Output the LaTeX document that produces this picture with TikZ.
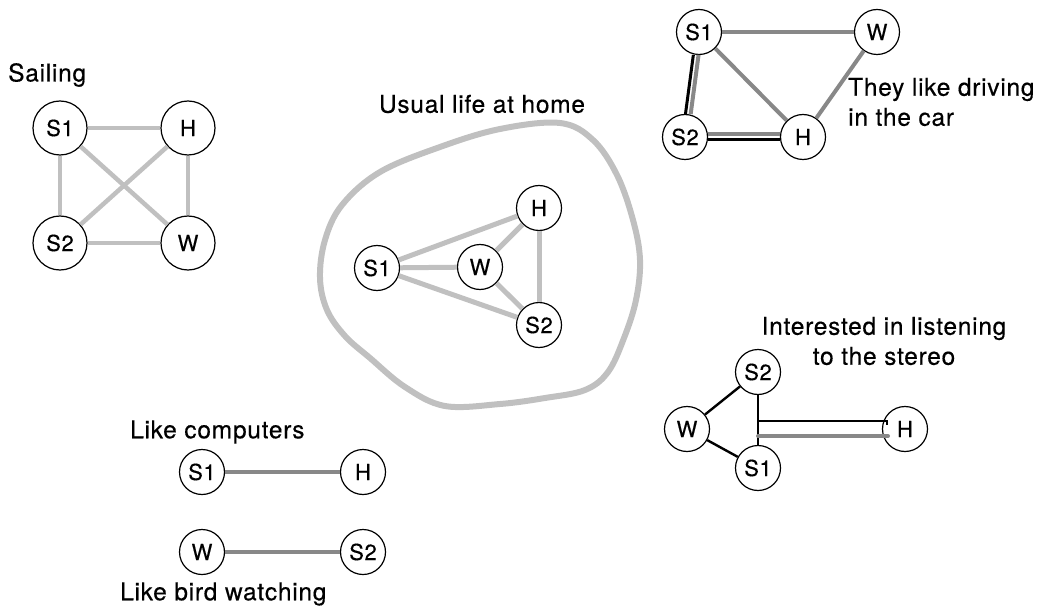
\documentclass[tikz,border=0pt]{standalone}
\usepackage{fontspec}
\setmainfont[LetterSpace=3,FakeBold=0.4]{TeX Gyre Heros}
\begin{document}
\begin{tikzpicture}[x=1pt,y=-1pt,
  vtx/.style={circle,draw,line width=1.2pt,minimum size=45pt,inner sep=0pt,font=\fontsize{22}{24}\selectfont},
  bigvtx/.style={vtx,minimum size=54pt},
  lab/.style={font=\fontsize{24.5}{30}\selectfont,inner sep=0pt},
  lightedge/.style={draw=lightgray,line width=4.5pt},
  midedge/.style={draw=midgray,line width=4pt},
  blackedge/.style={draw=black,line width=3pt},
  thinedge/.style={draw=black,line width=2.4pt},
  blob/.style={draw=lightgray,line width=6pt}
]
\definecolor{lightgray}{HTML}{C0C0C0}
\definecolor{midgray}{HTML}{888888}
\useasboundingbox (0,0) rectangle (1040,612);

% ---------- Sailing ----------
\node[lab,anchor=west] (tsail) at (8,75) {Sailing};
\node[bigvtx] (a1) at (60,128) {S1};
\node[bigvtx] (ah) at (188,128) {H};
\node[bigvtx] (a2) at (60,243) {S2};
\node[bigvtx] (aw) at (188,243) {W};
\draw[lightedge] (a1) -- (ah);
\draw[lightedge] (a1) -- (a2);
\draw[lightedge] (ah) -- (aw);
\draw[lightedge] (a2) -- (aw);
\draw[lightedge] (a1) -- (aw);
\draw[lightedge] (ah) -- (a2);

% ---------- Usual life at home ----------
\node[lab] (thome) at (482,104) {Usual life at home};
\draw[blob] plot[smooth cycle,tension=0.6] coordinates {
 (560,123) (593,140) (617,175) (633,220) (640,260) (636,300) (624,338)
 (608,372) (585,390) (545,398) (500,404) (445,406) (405,387) (370,358)
 (345,336) (327,310) (320,278) (325,240) (342,205) (380,172) (440,147) (500,129)};
\node[vtx] (b1) at (377,268) {S1};
\node[vtx] (bw) at (480,267) {W};
\node[vtx] (bh) at (539,208) {H};
\node[vtx] (b2) at (539,325) {S2};
\draw[lightedge,line width=5pt] (b1) -- (bh);
\draw[lightedge,line width=5pt] (b1) -- (bw);
\draw[lightedge,line width=5pt] (b1) -- (b2);
\draw[lightedge,line width=5pt] (bw) -- (bh);
\draw[lightedge,line width=5pt] (bw) -- (b2);
\draw[lightedge,line width=5pt] (bh) -- (b2);

% ---------- Driving in the car ----------
\node[vtx] (c1) at (699,32) {S1};
\node[vtx] (cw) at (877,32) {W};
\node[vtx] (c2) at (685,137) {S2};
\node[vtx] (ch) at (803,137) {H};
\draw[midedge] (c1) -- (cw);
\draw[midedge] (c1) -- (ch);
\draw[midedge] (cw) -- (ch);
\draw[blackedge,transform canvas={xshift=-2.6pt}] (c1) -- (c2);
\draw[midedge,transform canvas={xshift=2.6pt}] (c1) -- (c2);
\draw[midedge,transform canvas={yshift=3pt}] (c2) -- (ch);
\draw[blackedge,transform canvas={yshift=-3pt}] (c2) -- (ch);
\node[lab,anchor=west,align=left] (tcar) at (848,102) {They like driving\\in the car};

% ---------- Listening to the stereo ----------
\node[lab,align=center] (tstereo) at (884,341) {Interested in listening\\to the stereo};
\node[vtx] (d2) at (758,372) {S2};
\node[vtx] (dw) at (687,429) {W};
\node[vtx] (d1) at (758,468) {S1};
\node[vtx] (dh) at (905,429) {H};
\draw[thinedge] (dw) -- (d2);
\draw[thinedge] (dw) -- (d1);
\draw[thinedge] (d2) -- (d1);
\coordinate (j1) at (758,421);
\coordinate (j2) at (758,436);
\coordinate (k1) at (887,421);
\coordinate (k2) at (888,436);
\draw[thinedge] (j1) -- (k1) -- ++(0,4);
\draw[midedge,line cap=round] (j2) -- (k2);

% ---------- Like computers ----------
\node[lab,anchor=west] (tcomp) at (130,432) {Like computers};
\node[vtx] (e1) at (202,472) {S1};
\node[vtx] (eh) at (363,472) {H};
\draw[midedge] (e1) -- (eh);

% ---------- Like bird watching ----------
\node[vtx] (fw) at (202,552) {W};
\node[vtx] (f2) at (363,552) {S2};
\draw[midedge] (fw) -- (f2);
\node[lab,anchor=west] (tbird) at (120,594) {Like bird watching};
\end{tikzpicture}
\end{document}
